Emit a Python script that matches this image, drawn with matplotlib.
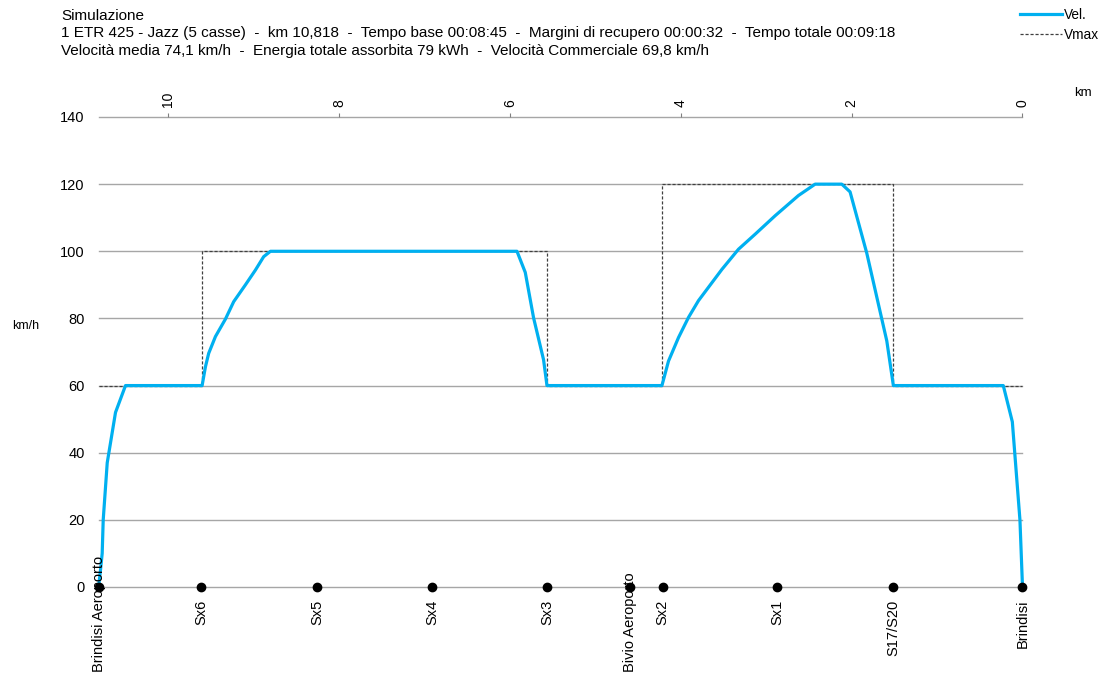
import numpy as np
import matplotlib
matplotlib.use("Agg")
import matplotlib.pyplot as plt
from matplotlib.lines import Line2D

plt.rcParams['font.family'] = ['Liberation Sans', 'DejaVu Sans']

# Speed profile (km from Brindisi, km/h)
km_vel = [10.818, 10.796, 10.776, 10.764, 10.717, 10.62, 10.503,
          9.606, 9.567, 9.529, 9.45, 9.333, 9.236, 9.099, 8.982, 8.885, 8.806,
          5.919, 5.822, 5.725, 5.608, 5.568,
          4.222, 4.145, 4.028, 3.911, 3.794, 3.52, 3.326, 3.13, 2.896, 2.624,
          2.428, 2.116, 2.019, 1.823, 1.589, 1.512,
          0.225, 0.119, 0.03, 0.0]
vel = [0, 5, 10, 20, 37, 52, 60,
       60, 65.6, 69.6, 74.6, 79.8, 85, 90, 94.4, 98.4, 100,
       100, 93.7, 80.2, 67.7, 60,
       60, 67.3, 74.3, 80.3, 85.3, 94.6, 100.6, 105.1, 110.6, 116.6,
       120, 120, 117.7, 99.4, 73.3, 60,
       60, 49.2, 20, 0]

# Speed limit sections: boundaries (km) and limit of each section
vmax_bounds = [10.818, 9.606, 5.568, 4.222, 1.512, 0.0]
vmax_vals = [60, 100, 60, 120, 60]

# Stations / block points
stations = ["Brindisi Aeroporto", "Sx6", "Sx5", "Sx4", "Sx3",
            "Bivio Aeroporto", "Sx2", "Sx1", "S17/S20", "Brindisi"]
station_km = [10.818, 9.614, 8.257, 6.911, 5.568, 4.593, 4.215, 2.87, 1.512, 0.0]

km_ticks = [10, 8, 6, 4, 2, 0]
v_ticks = [0, 20, 40, 60, 80, 100, 120, 140]

title_lines = [
    "Simulazione",
    "1 ETR 425 - Jazz (5 casse)  -  km 10,818  -  Tempo base 00:08:45  -  "
    "Margini di recupero 00:00:32  -  Tempo totale 00:09:18",
    "Velocità media 74,1 km/h  -  Energia totale assorbita 79 kWh  -  "
    "Velocità Commerciale 69,8 km/h",
]

W, H = 1099, 677
fig = plt.figure(figsize=(W / 100, H / 100), dpi=100)
left, right, bottom, top = 98.6, 1022.5, 587, 117
ax = fig.add_axes([left / W, 1 - bottom / H, (right - left) / W, (bottom - top) / H])

ax.set_xlim(vmax_bounds[0], 0)
ax.set_ylim(0, 140)

# horizontal grid
for v in v_ticks:
    ax.axhline(v, color="#a6a6a6", lw=1.0, zorder=1, clip_on=False)

for s in ax.spines.values():
    s.set_visible(False)

# step line for Vmax
vx = np.repeat(vmax_bounds, 2)[1:-1]
vy = np.repeat(vmax_vals, 2)
ax.plot(vx, vy, color="#404040", lw=0.9, ls=(0, (2.5, 1.5)), zorder=2, clip_on=False)

ax.plot(km_vel, vel, color="#00b0f0", lw=2.3, zorder=3, clip_on=False,
        solid_joinstyle="round")

ax.plot(station_km, [0] * len(station_km), "o", color="black", ms=6,
        zorder=5, clip_on=False)

for name, k in zip(stations, station_km):
    if len(name) > 10:
        ax.annotate(name, xy=(k, 0), xytext=(0, -85), textcoords="offset pixels",
                    rotation=90, ha="center", va="bottom", fontsize=10.5,
                    zorder=6, annotation_clip=False)
    else:
        ax.annotate(name, xy=(k, 0), xytext=(0, -13), textcoords="offset pixels",
                    rotation=90, ha="center", va="top", fontsize=10.5,
                    zorder=6, annotation_clip=False)

ax.xaxis.tick_top()
ax.set_xticks(km_ticks)
ax.set_xticklabels([str(t) for t in km_ticks], rotation=90, fontsize=10)
ax.tick_params(axis="x", direction="out", length=3, width=0.8, color="#808080", pad=4)
ax.set_yticks(v_ticks)
ax.set_yticklabels([str(t) for t in v_ticks], fontsize=10.5)
ax.tick_params(axis="y", length=0, pad=10)

fig.text(26 / W, 1 - 326 / H, "km/h", ha="center", va="center", fontsize=9)
fig.text(1083 / W, 1 - 93 / H, "km", ha="center", va="center", fontsize=9.5)

for i, line in enumerate(title_lines):
    fig.text(61 / W, 1 - (20.5 + 17 * i) / H, line, ha="left", va="baseline",
             fontsize=11)

handles = [Line2D([], [], color="#00b0f0", lw=2.3),
           Line2D([], [], color="#404040", lw=0.9, ls=(0, (2.5, 1.5)))]
fig.legend(handles, ["Vel.", "Vmax"], loc="upper left",
           bbox_to_anchor=(1020 / W, 1 - 8 / H), frameon=False, fontsize=9.8,
           handlelength=3.1, handletextpad=0.1, labelspacing=0.45,
           borderpad=0, borderaxespad=0)

fig.savefig("out.png", dpi=100)
